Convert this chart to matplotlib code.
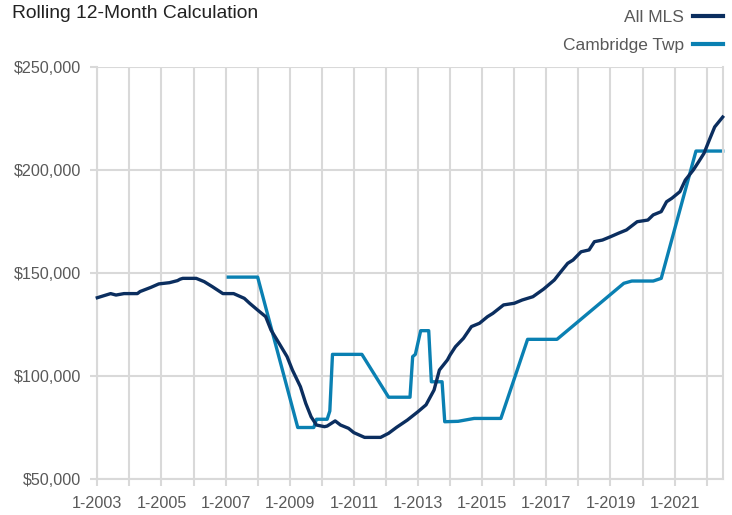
import matplotlib
matplotlib.use("Agg")
import matplotlib.pyplot as plt
from matplotlib.ticker import FuncFormatter

plt.rcParams['font.family'] = ['Liberation Sans', 'DejaVu Sans']

# months counted from 1-2003
mls_month = [0, 5, 7, 10, 15, 16, 20, 23, 27, 30, 31, 32, 37, 40, 43, 47, 51, 55, 57, 60,
             63, 65, 68, 71, 73, 76, 78, 80, 82, 85, 86, 89, 91, 94, 96, 100, 106, 109, 112,
             116, 120, 123, 126, 128, 131, 132, 134, 137, 140, 143, 146, 148, 152, 156, 159,
             163, 167, 171, 173, 176, 178, 181, 184, 186, 189, 192, 195, 198, 202, 206, 208,
             211, 213, 215, 218, 220, 223, 225, 227, 229, 231, 234]
mls_value = [138.0, 140.0, 139.3, 140.0, 140.0, 141.0, 143.0, 144.7, 145.3, 146.3, 147.0, 147.4,
             147.4, 145.8, 143.4, 140.0, 140.0, 137.7, 135.3, 132.0, 128.8, 122.3, 115.9, 109.4,
             102.9, 94.8, 86.7, 80.2, 76.2, 75.4, 75.7, 78.2, 76.2, 74.6, 72.5, 70.2, 70.2, 72.2,
             75.1, 78.6, 82.7, 86.0, 93.2, 102.9, 107.8, 110.2, 114.2, 118.3, 124.0, 125.6, 128.8,
             130.4, 134.5, 135.3, 136.9, 138.5, 142.2, 146.6, 149.9, 154.7, 156.3, 160.3, 161.2,
             165.2, 166.0, 167.6, 169.3, 170.9, 174.9, 175.7, 178.2, 179.8, 184.6, 186.3, 189.5,
             195.1, 200.0, 204.0, 208.1, 214.6, 220.9, 225.7]

twp_month = [49, 60, 75, 81, 82, 86, 87, 88, 99, 109, 117, 118, 119, 121, 124, 125, 129, 130,
             135, 141, 151, 161, 172, 197, 200, 208, 211, 224, 234]
twp_value = [148.0, 148.0, 75.0, 75.0, 79.0, 79.0, 83.0, 110.5, 110.5, 89.7, 89.7, 109.4, 110.5,
             122.0, 122.0, 97.2, 97.2, 77.8, 78.0, 79.4, 79.4, 117.8, 117.8, 145.0, 146.1, 146.1,
             147.4, 209.2, 209.2]

years = list(range(2003, 2023))

navy = '#0b2e5f'
teal = '#0a80b2'
grid = '#d9d9d9'
txt = '#595959'

fig = plt.figure(figsize=(7.32, 5.15), dpi=100)
ax = fig.add_axes([97.3 / 732, 36 / 515, (722.7 - 97.3) / 732, (479 - 67) / 515])

ax.plot(mls_month, [v * 1000 for v in mls_value], color=navy, lw=2.4, label='All MLS',
        solid_joinstyle='round', clip_on=False, zorder=3)
ax.plot(twp_month, [v * 1000 for v in twp_value], color=teal, lw=2.4, label='Cambridge Twp',
        solid_joinstyle='round', clip_on=False, zorder=2)

ax.set_xlim(0, 234)
ax.set_ylim(50000, 250000)
ax.set_yticks([50000, 100000, 150000, 200000, 250000])
ax.yaxis.set_major_formatter(FuncFormatter(lambda v, p: '${:,.0f}'.format(v)))
ax.set_xticks([(y - 2003) * 12 for y in years])
ax.set_xticklabels(['1-%d' % y if (y - 2003) % 2 == 0 else '' for y in years])

ax.grid(True, color=grid, lw=1.5)
ax.set_axisbelow(True)
ax.spines['top'].set_visible(False)
for s in ['left', 'right', 'bottom']:
    ax.spines[s].set_color(grid)
    ax.spines[s].set_linewidth(1.5)
ax.tick_params(axis='both', colors=grid, width=1.5, length=5, labelsize=11.6, labelcolor=txt)
ax.tick_params(axis='x', pad=7)
ax.tick_params(axis='y', pad=6.5)

fig.text(12 / 732, 1 - 13.5 / 515, 'Rolling 12-Month Calculation', fontsize=13.9, color='#222222',
         va='center', ha='left')

leg = ax.legend(loc='upper right', bbox_to_anchor=(723 / 732, 1 - 10 / 515),
                bbox_transform=fig.transFigure, frameon=False, markerfirst=False,
                fontsize=12.5, handlelength=1.75, handletextpad=0.5, labelspacing=0.75,
                borderaxespad=0, borderpad=0)
for t in leg.get_texts():
    t.set_color(txt)
for l in leg.get_lines():
    l.set_linewidth(3)

fig.savefig('out.png', dpi=100)
